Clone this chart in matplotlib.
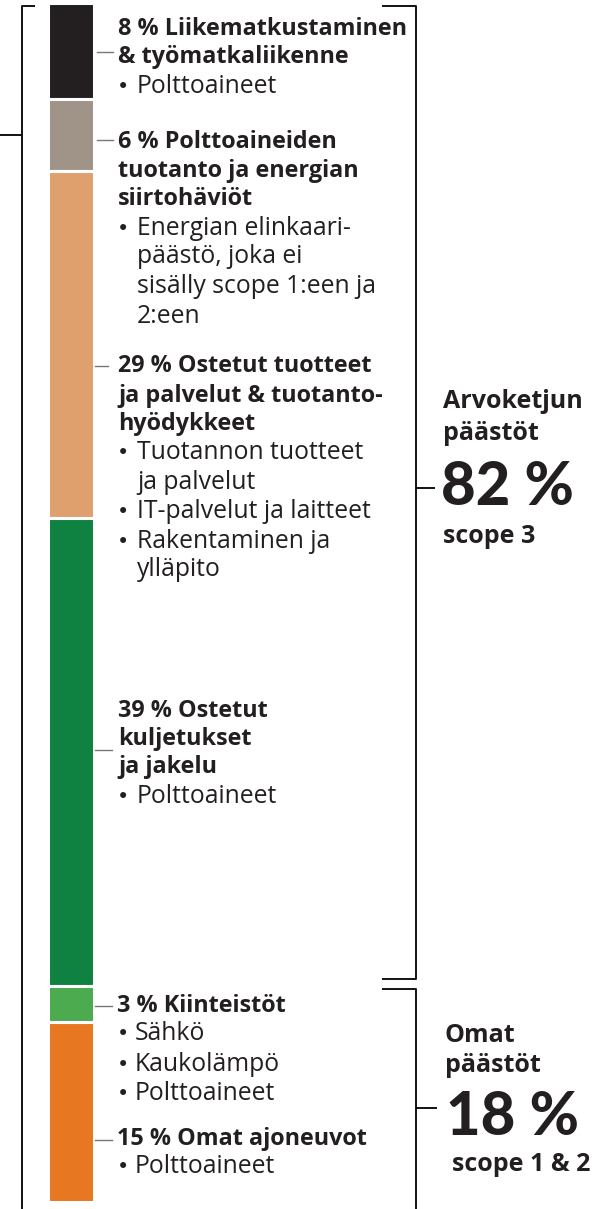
import matplotlib
matplotlib.use("Agg")
import matplotlib.pyplot as plt

# ── Data: emission shares (%) by category, top to bottom ────────────────────
categories = ["Liikematkustaminen & työmatkaliikenne",
              "Polttoaineiden tuotanto ja energian siirtohäviöt",
              "Ostetut tuotteet ja palvelut & tuotantohyödykkeet",
              "Ostetut kuljetukset ja jakelu",
              "Kiinteistöt",
              "Omat ajoneuvot"]
shares = [8, 6, 29, 39, 3, 15]
colors = ["#231f20", "#a09489", "#dfa06e", "#0f8140", "#4caa4f", "#e87722"]
scope3_pct = 82
scope12_pct = 18

TXT = "#231f20"
FONT = "Open Sans"
BIG_FONT = "Lato"
plt.rcParams["font.family"] = [FONT, "DejaVu Sans"]

W, H = 594, 1209
fig = plt.figure(figsize=(W / 100, H / 100), dpi=100)

# ── Bar axes: y in percent, 0 % at px 3, 100 % at px 1201.5 ─────────────────
y0, scale = 3.0, 11.985
ax = fig.add_axes([0, 0, 1, 1])
ax.set_xlim(0, W)
ax.set_ylim((H - y0) / scale, -y0 / scale)
ax.axis("off")

bottom = 0
for val, col in zip(shares, colors):
    ax.bar(70.5, val, width=46, bottom=bottom, color=col,
           edgecolor="white", linewidth=2.2)
    bottom += val

# ── Overlay axes in pixel coordinates for labels and brackets ───────────────
ov = fig.add_axes([0, 0, 1, 1], zorder=5)
ov.set_xlim(0, W)
ov.set_ylim(H, 0)
ov.axis("off")
ov.patch.set_alpha(0)

BOLD_FS = 16.8
REG_FS = 17.8


def bold(x, y, s, fs=BOLD_FS, family=FONT, weight="bold"):
    ov.text(x, y, s, fontsize=fs, fontweight=weight, color=TXT,
            va="baseline", family=family)


def reg(x, y, s, bullet=False):
    if bullet:
        ov.text(117, y, "•", fontsize=15, color=TXT, va="baseline",
                family="DejaVu Sans")
    ov.text(x, y, s, fontsize=REG_FS, color=TXT, va="baseline")


# label tick marks
for x1, x2, y in [(97, 113, 52), (97, 113, 140), (95, 108, 366),
                  (95, 112, 750), (95, 112, 1006), (95, 112, 1140)]:
    ov.plot([x1, x2], [y, y], color="#777777", lw=1)

# 8 %
bold(118, 35, f"{shares[0]} % Liikematkustaminen")
bold(118, 63, "& työmatkaliikenne")
reg(137, 93, "Polttoaineet", True)

# 6 %
bold(118, 148, f"{shares[1]} % Polttoaineiden")
bold(118, 177, "tuotanto ja energian")
bold(118, 205, "siirtohäviöt")
reg(137, 235, "Energian elinkaari-", True)
reg(137, 263, "päästö, joka ei")
reg(137, 293, "sisälly scope 1:een ja")
reg(137, 323, "2:een")

# 29 %
bold(118, 372, f"{shares[2]} % Ostetut tuotteet")
bold(118, 402, "ja palvelut & tuotanto-")
bold(118, 430, "hyödykkeet")
reg(137, 459, "Tuotannon tuotteet", True)
reg(137, 489, "ja palvelut")
reg(137, 518, "IT-palvelut ja laitteet", True)
reg(137, 548, "Rakentaminen ja", True)
reg(137, 576, "ylläpito")

# 39 %
bold(118, 717, f"{shares[3]} % Ostetut")
bold(118, 745, "kuljetukset")
bold(118, 773, "ja jakelu")
reg(137, 803, "Polttoaineet", True)

# 3 %
bold(117, 1012, f"{shares[4]} % Kiinteistöt")
reg(135, 1040, "Sähkö", True)
reg(135, 1071, "Kaukolämpö", True)
reg(135, 1100, "Polttoaineet", True)

# 15 %
bold(117, 1145, f"{shares[5]} % Omat ajoneuvot")
reg(135, 1173, "Polttoaineet", True)

# ── Brackets ────────────────────────────────────────────────────────────────
blk = dict(color="black", lw=1.3, solid_capstyle="butt")
# left bracket (whole bar)
ov.plot([35, 22, 22], [6, 6, H], **blk)
ov.plot([0, 22], [135, 135], **blk)
# scope 3 bracket
ov.plot([382, 416, 416, 382], [6, 6, 979, 979], **blk)
ov.plot([416, 435], [488, 488], **blk)
# scope 1 & 2 bracket
ov.plot([382, 416, 416], [989, 989, H], **blk)
ov.plot([416, 437], [1108, 1108], **blk)

# ── Totals ──────────────────────────────────────────────────────────────────
bold(443, 408, "Arvoketjun", 18)
bold(443, 440, "päästöt", 18)
bold(441, 505, f"{scope3_pct} %", 43, BIG_FONT, "black")
bold(443, 543, "scope 3", 18)

bold(445, 1042, "Omat", 18)
bold(445, 1072, "päästöt", 18)
bold(446, 1135, f"{scope12_pct} %", 43, BIG_FONT, "black")
bold(452, 1171, "scope 1 & 2", 18)

fig.savefig("out.png", dpi=100)
